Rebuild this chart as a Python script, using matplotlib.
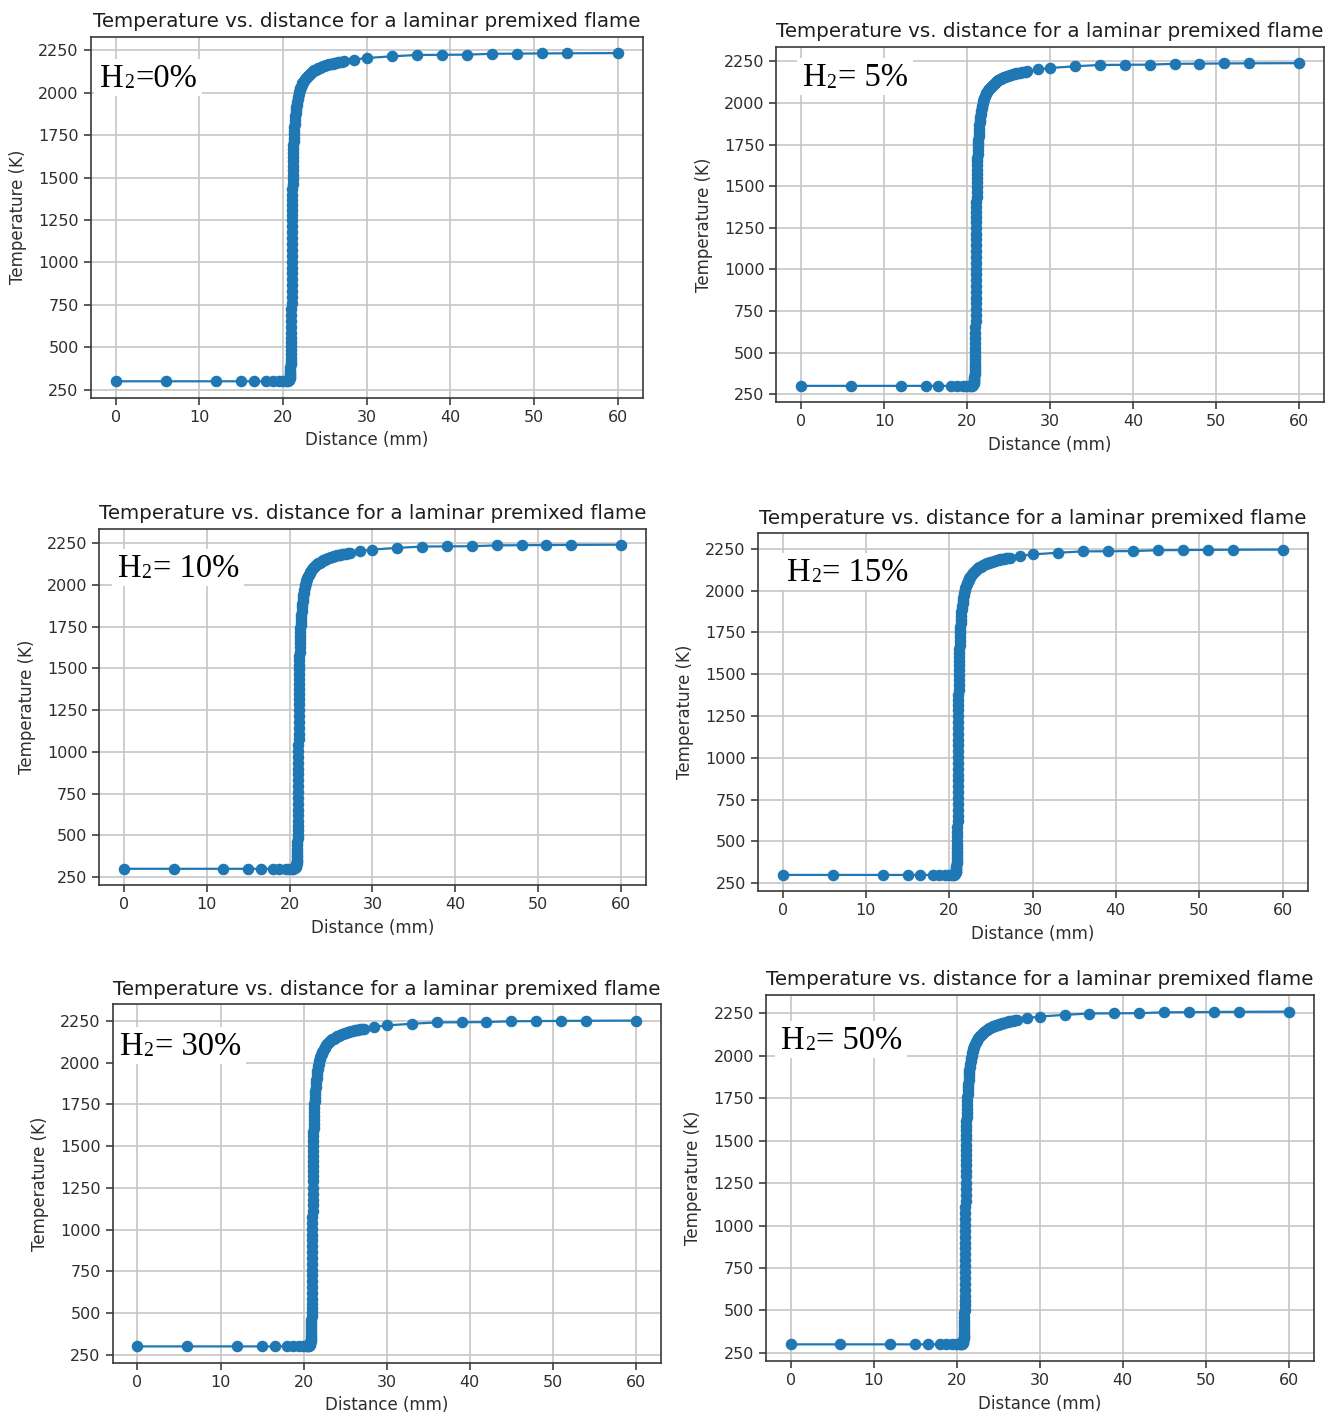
import matplotlib
matplotlib.use("Agg")
import matplotlib.pyplot as plt
from matplotlib.patches import Rectangle

W, H = 1328, 1418

# Flame grid points (mm), shared by all six solutions
distance_mm = [
    0, 6, 12, 15, 16.5, 18, 18.75, 19.5, 19.88, 20.25,
    20.44, 20.58, 20.68, 20.75, 20.78, 20.80, 20.82, 20.84, 20.855, 20.87,
    20.885, 20.90, 20.91, 20.92, 20.93, 20.94, 20.95, 20.96, 20.97, 20.98,
    20.99, 21.00, 21.005, 21.01, 21.015, 21.02, 21.025, 21.03, 21.035, 21.04,
    21.045, 21.05, 21.055, 21.06, 21.065, 21.07, 21.075, 21.08, 21.085, 21.09,
    21.095, 21.10, 21.105, 21.11, 21.12, 21.13, 21.14, 21.15, 21.16, 21.17,
    21.18, 21.19, 21.205, 21.22, 21.235, 21.25, 21.27, 21.29, 21.315, 21.34,
    21.37, 21.40, 21.435, 21.47, 21.51, 21.55, 21.595, 21.64, 21.695, 21.75,
    21.81, 21.87, 21.935, 22.00, 22.075, 22.15, 22.235, 22.32, 22.415, 22.51,
    22.615, 22.72, 22.835, 22.95, 23.075, 23.20, 23.335, 23.47, 23.615, 23.76,
    23.915, 24.07, 24.235, 24.40, 24.575, 24.75, 24.935, 25.12, 25.315, 25.51,
    25.715, 25.92, 26.135, 26.35, 26.575, 26.80, 27.035, 27.27, 28.5, 30,
    33, 36, 39, 42, 45, 48, 51, 54, 60,
]

# Temperature (K): unburnt side up to ~1250 K is the same in every case
T_cold_side = [
    300, 300, 300, 300, 300, 300, 300, 300, 300, 300,
    301, 302, 305, 310, 315, 320, 327, 335, 344, 355,
    369, 385, 402, 420, 440, 460, 482, 505, 530, 555,
    587, 620, 655, 690, 725, 760, 795, 830, 865, 900,
    935, 970, 1005, 1040, 1075, 1110, 1145, 1180, 1215, 1250,
]

T_h2_0 = T_cold_side + [
    1280, 1310, 1340, 1370, 1400, 1430, 1460, 1490, 1518, 1545,
    1570, 1595, 1620, 1645, 1668, 1690, 1713, 1735, 1755, 1775,
    1795, 1815, 1838, 1860, 1878, 1895, 1913, 1930, 1946, 1962,
    1977, 1992, 2004, 2015, 2026, 2036, 2045, 2054, 2062, 2070,
    2078, 2085, 2092, 2098, 2104, 2110, 2116, 2121, 2126, 2131,
    2136, 2140, 2144, 2148, 2152, 2155, 2158, 2161, 2164, 2166,
    2169, 2171, 2174, 2176, 2178, 2180, 2182, 2184, 2195, 2204,
    2214, 2222, 2223, 2224, 2229, 2230, 2231, 2232, 2233,
]
T_h2_5 = T_cold_side + [
    1283, 1313, 1343, 1373, 1404, 1434, 1464, 1494, 1522, 1549,
    1574, 1599, 1624, 1649, 1672, 1694, 1718, 1740, 1760, 1780,
    1800, 1820, 1843, 1865, 1883, 1900, 1918, 1935, 1951, 1967,
    1983, 1998, 2010, 2021, 2032, 2042, 2051, 2060, 2068, 2076,
    2084, 2091, 2098, 2104, 2110, 2116, 2122, 2127, 2132, 2137,
    2142, 2146, 2150, 2154, 2158, 2161, 2164, 2167, 2170, 2172,
    2175, 2177, 2180, 2182, 2184, 2186, 2188, 2190, 2201, 2210,
    2220, 2228, 2229, 2230, 2235, 2236, 2237, 2238, 2239,
]
T_h2_10 = T_cold_side + [
    1285, 1315, 1345, 1375, 1405, 1435, 1465, 1495, 1523, 1550,
    1576, 1601, 1626, 1651, 1674, 1696, 1719, 1741, 1761, 1781,
    1802, 1822, 1845, 1867, 1885, 1902, 1920, 1937, 1953, 1969,
    1985, 2000, 2012, 2023, 2034, 2044, 2053, 2062, 2070, 2078,
    2086, 2093, 2100, 2106, 2112, 2118, 2124, 2129, 2134, 2139,
    2144, 2148, 2152, 2156, 2160, 2163, 2166, 2169, 2172, 2174,
    2177, 2179, 2182, 2184, 2186, 2188, 2190, 2192, 2203, 2212,
    2222, 2230, 2231, 2232, 2237, 2238, 2239, 2240, 2241,
]
T_h2_15 = T_cold_side + [
    1287, 1317, 1347, 1377, 1407, 1438, 1468, 1498, 1526, 1553,
    1579, 1604, 1629, 1654, 1677, 1699, 1722, 1745, 1765, 1785,
    1805, 1825, 1849, 1871, 1889, 1906, 1924, 1941, 1957, 1973,
    1989, 2004, 2016, 2027, 2038, 2048, 2057, 2066, 2074, 2082,
    2090, 2097, 2104, 2111, 2117, 2123, 2129, 2134, 2139, 2144,
    2149, 2153, 2157, 2161, 2165, 2168, 2171, 2174, 2177, 2179,
    2182, 2184, 2187, 2189, 2191, 2193, 2195, 2197, 2208, 2217,
    2227, 2235, 2236, 2237, 2242, 2243, 2244, 2245, 2246,
]
T_h2_30 = T_cold_side + [
    1290, 1320, 1350, 1380, 1411, 1441, 1472, 1502, 1530, 1558,
    1583, 1608, 1634, 1659, 1682, 1704, 1728, 1750, 1770, 1790,
    1810, 1830, 1854, 1876, 1894, 1911, 1930, 1947, 1963, 1979,
    1994, 2009, 2021, 2032, 2043, 2053, 2063, 2072, 2080, 2088,
    2096, 2103, 2110, 2116, 2122, 2128, 2134, 2139, 2144, 2149,
    2154, 2158, 2162, 2167, 2171, 2174, 2177, 2180, 2183, 2185,
    2188, 2190, 2193, 2195, 2197, 2199, 2201, 2203, 2214, 2223,
    2233, 2241, 2242, 2243, 2248, 2249, 2250, 2251, 2252,
]
T_h2_50 = T_cold_side + [
    1294, 1324, 1355, 1385, 1416, 1446, 1477, 1507, 1536, 1563,
    1588, 1613, 1639, 1664, 1688, 1710, 1734, 1756, 1776, 1796,
    1816, 1836, 1860, 1882, 1900, 1917, 1936, 1953, 1969, 1985,
    2000, 2016, 2028, 2039, 2050, 2060, 2070, 2079, 2087, 2095,
    2103, 2110, 2117, 2123, 2129, 2135, 2141, 2146, 2152, 2157,
    2162, 2166, 2170, 2174, 2178, 2181, 2184, 2187, 2190, 2192,
    2195, 2197, 2200, 2202, 2204, 2206, 2208, 2210, 2222, 2231,
    2241, 2249, 2250, 2251, 2256, 2257, 2258, 2259, 2260,
]

profiles = [T_h2_0, T_h2_5, T_h2_10, T_h2_15, T_h2_30, T_h2_50]
h2_values = ["0%", " 5%", " 10%", " 15%", " 30%", " 50%"]

x_ticks = [0, 10, 20, 30, 40, 50, 60]
y_ticks = [250, 500, 750, 1000, 1250, 1500, 1750, 2000, 2250]

# axes boxes in pixels: left, top, right, bottom
boxes = [
    (90.5, 36.7, 642.8, 397.7),
    (776.4, 47.0, 1323.8, 402.0),
    (99.2, 528.5, 645.8, 885.0),
    (757.6, 533.3, 1307.5, 891.2),
    (112.5, 1004.3, 661.0, 1362.7),
    (765.7, 995.0, 1313.5, 1361.0),
]
# H2 tag anchor: left x, baseline y (pixels)
tag_pos = [
    (100, 87), (803, 86), (118, 577), (787, 581), (120, 1055), (781, 1049),
]

plt.rcParams["font.family"] = "DejaVu Sans"
fig = plt.figure(figsize=(W / 100, H / 100), dpi=100)
fig.patch.set_facecolor("white")
renderer = fig.canvas.get_renderer()


def h2_tag(x_px, base_px, value):
    """Write 'H2=value' with a small subscript 2 on a white card."""
    size = 23.5
    kw = dict(family="Liberation Serif", color="black", ha="left",
              va="baseline", zorder=6)
    t1 = fig.text(x_px / W, 1 - base_px / H, "H", fontsize=size, **kw)
    x2 = t1.get_window_extent(renderer).x1
    t2 = fig.text(x2 / W, 1 - (base_px + 1.5) / H, "2", fontsize=size * 0.6, **kw)
    x3 = t2.get_window_extent(renderer).x1 + 1.5
    t3 = fig.text(x3 / W, 1 - base_px / H, "=" + value, fontsize=size, **kw)
    x4 = t3.get_window_extent(renderer).x1
    cap = size * 100 / 72 * 0.66
    left, right = x_px - 6, x4 + 5
    top, bottom = base_px - cap - 6, base_px + 9
    fig.add_artist(Rectangle((left / W, 1 - bottom / H), (right - left) / W,
                             (bottom - top) / H, transform=fig.transFigure,
                             facecolor="white", edgecolor="none", zorder=5))


for (l, t, r, b), temps, val, (tx, ty) in zip(boxes, profiles, h2_values, tag_pos):
    ax = fig.add_axes([l / W, 1 - b / H, (r - l) / W, (b - t) / H])
    ax.plot(distance_mm, temps, "-o", color="#1f77b4", lw=1.6, ms=7.3)
    ax.set_xticks(x_ticks)
    ax.set_yticks(y_ticks)
    ax.grid(True, color="#c6c6c6", lw=1.2)
    ax.tick_params(labelsize=11.5, colors="#2e2e2e", length=5, width=1.1)
    for s in ax.spines.values():
        s.set_color("#3a3a3a")
        s.set_linewidth(1.2)
    ax.set_title("Temperature vs. distance for a laminar premixed flame",
                 fontsize=14.3, color="#1e1e1e", pad=7)
    ax.set_xlabel("Distance (mm)", fontsize=12, color="#2e2e2e", labelpad=5)
    ax.set_ylabel("Temperature (K)", fontsize=12, color="#2e2e2e", labelpad=8)
    h2_tag(tx, ty, val)

fig.savefig("out.png", dpi=100, facecolor="white")
